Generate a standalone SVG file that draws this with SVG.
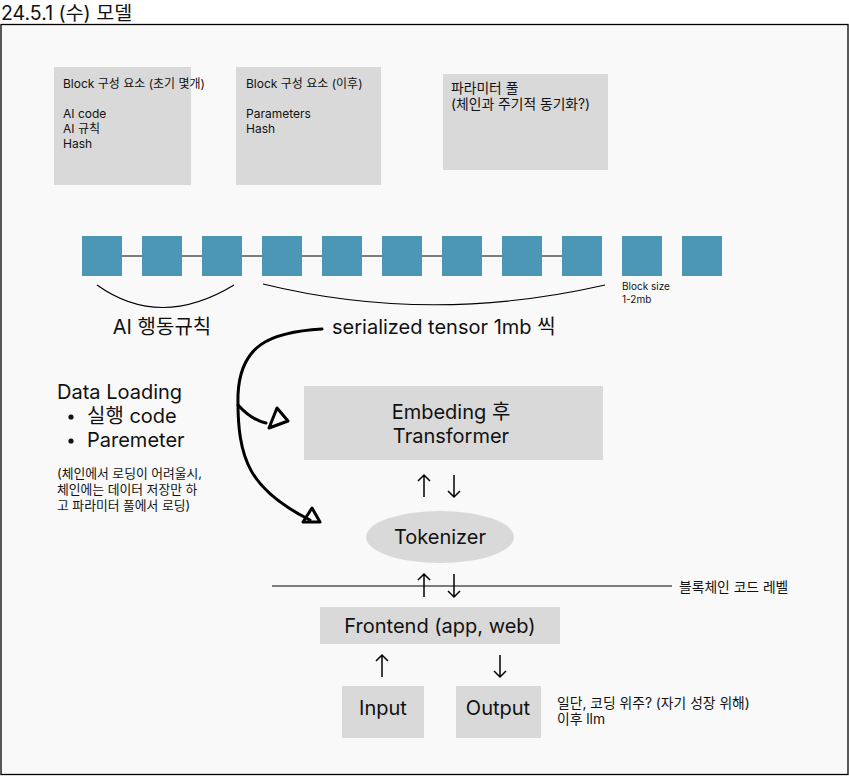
<svg xmlns="http://www.w3.org/2000/svg" width="849" height="776" viewBox="0 0 849 776">
<style>
text{font-family:Inter,"Noto Sans CJK KR",sans-serif;fill:#111}
.sm{font-size:12px}
.nt{font-size:12.8px}
.md{font-size:13.8px}
.lg{font-size:20px}
.box{fill:#d9d9d9}
.blk{fill:#4b97b5}
.hand{fill:none;stroke:#000;stroke-width:3;stroke-linecap:round;stroke-linejoin:round}
.thin{fill:none;stroke:#000;stroke-width:1.2}
</style>
<rect x="0" y="0" width="849" height="776" fill="#fff"/>
<text x="1" y="20" style="font-size:19.5px">24.5.1 (수) 모델</text>
<rect x="1" y="24.5" width="847" height="750" fill="#f9f9f9" stroke="#000" stroke-width="1.3"/>

<g id="block-initial">
<rect class="box" x="54" y="67" width="137" height="118"/>
<text class="sm" x="63" y="88">Block 구성 요소 (초기 몇개)</text>
<text class="sm" x="63" y="118">AI code</text>
<text class="sm" x="63" y="133">AI 규칙</text>
<text class="sm" x="63" y="148">Hash</text>
</g>
<g id="block-later">
<rect class="box" x="236" y="67" width="145" height="118"/>
<text class="sm" x="246" y="88">Block 구성 요소 (이후)</text>
<text class="sm" x="246" y="118">Parameters</text>
<text class="sm" x="246" y="133">Hash</text>
</g>
<g id="param-pool">
<rect class="box" x="443" y="74" width="165" height="96"/>
<text class="md" x="451" y="93">파라미터 풀</text>
<text class="md" x="451" y="109">(체인과 주기적 동기화?)</text>
</g>

<g id="chain">
<line x1="122" y1="256" x2="562" y2="256" stroke="#000" stroke-width="1.2"/>
<rect class="blk" x="82" y="236" width="40" height="40"/>
<rect class="blk" x="142" y="236" width="40" height="40"/>
<rect class="blk" x="202" y="236" width="40" height="40"/>
<rect class="blk" x="262" y="236" width="40" height="40"/>
<rect class="blk" x="322" y="236" width="40" height="40"/>
<rect class="blk" x="382" y="236" width="40" height="40"/>
<rect class="blk" x="442" y="236" width="40" height="40"/>
<rect class="blk" x="502" y="236" width="40" height="40"/>
<rect class="blk" x="562" y="236" width="40" height="40"/>
<rect class="blk" x="622" y="236" width="40" height="40"/>
<rect class="blk" x="682" y="236" width="40" height="40"/>
<text x="622" y="290" style="font-size:10px">Block size</text>
<text x="622" y="303" style="font-size:10px">1-2mb</text>
</g>

<g id="braces">
<path class="thin" d="M97,285 Q160,330 234,285"/>
<path class="thin" d="M263,284 Q430,325 605,285"/>
<text class="lg" x="162" y="334" text-anchor="middle">AI 행동규칙</text>
<text class="lg" x="332" y="334">serialized tensor 1mb 씩</text>
</g>

<g id="data-loading">
<text class="lg" x="57" y="399">Data Loading</text>
<circle cx="71" cy="417" r="2.6" fill="#111"/>
<text class="lg" x="87" y="423">실행 code</text>
<circle cx="71" cy="441" r="2.6" fill="#111"/>
<text class="lg" x="87" y="447">Paremeter</text>
<text class="nt" x="57" y="478">(체인에서 로딩이 어려울시,</text>
<text class="nt" x="57" y="494">체인에는 데이터 저장만 하</text>
<text class="nt" x="57" y="510">고 파라미터 풀에서 로딩)</text>
</g>

<g id="embedding">
<rect class="box" x="304" y="386" width="299" height="74"/>
<text class="lg" x="451" y="419" text-anchor="middle">Embeding 후</text>
<text class="lg" x="451" y="443" text-anchor="middle">Transformer</text>
</g>

<g id="tokenizer">
<ellipse cx="440" cy="537" rx="74" ry="26" fill="#d9d9d9"/>
<text class="lg" x="440" y="544" text-anchor="middle">Tokenizer</text>
</g>

<g id="frontend">
<rect class="box" x="320" y="607" width="240" height="37"/>
<text class="lg" x="440" y="633" text-anchor="middle">Frontend (app, web)</text>
</g>
<g id="input">
<rect class="box" x="342" y="686" width="82" height="52"/>
<text class="lg" x="383" y="715" text-anchor="middle">Input</text>
</g>
<g id="output">
<rect class="box" x="456" y="686" width="85" height="52"/>
<text class="lg" x="498" y="715" text-anchor="middle">Output</text>
</g>
<g id="note-output">
<text class="md" x="557" y="708">일단, 코딩 위주? (자기 성장 위해)</text>
<text class="md" x="557" y="724">이후 llm</text>
</g>

<g id="connectors">
<path class="hand" d="M322,329 C270,332 240,345 238,395 C237,460 250,490 310,520"/>
<path class="hand" d="M238,405 C248,416 256,421 266,423"/>
<path class="hand" d="M277,408 L288,421 L269,428 Z"/>
<path class="hand" d="M312,508 L320,522 L303,522 Z"/>
<g stroke="#000" stroke-width="1.5" fill="none">
<path d="M424,497 V475 M418,481 L424,475 L430,481"/>
<path d="M454,475 V497 M448,491 L454,497 L460,491"/>
<path d="M424,597 V574 M418,580 L424,574 L430,580"/>
<path d="M454,574 V597 M448,591 L454,597 L460,591"/>
<path d="M382,677 V655 M376,661 L382,655 L388,661"/>
<path d="M500,655 V677 M494,671 L500,677 L506,671"/>
</g>
<line x1="272" y1="586" x2="672" y2="586" stroke="#000" stroke-width="1.2"/>
<text class="md" x="679" y="592">블록체인 코드 레벨</text>
</g>
</svg>
